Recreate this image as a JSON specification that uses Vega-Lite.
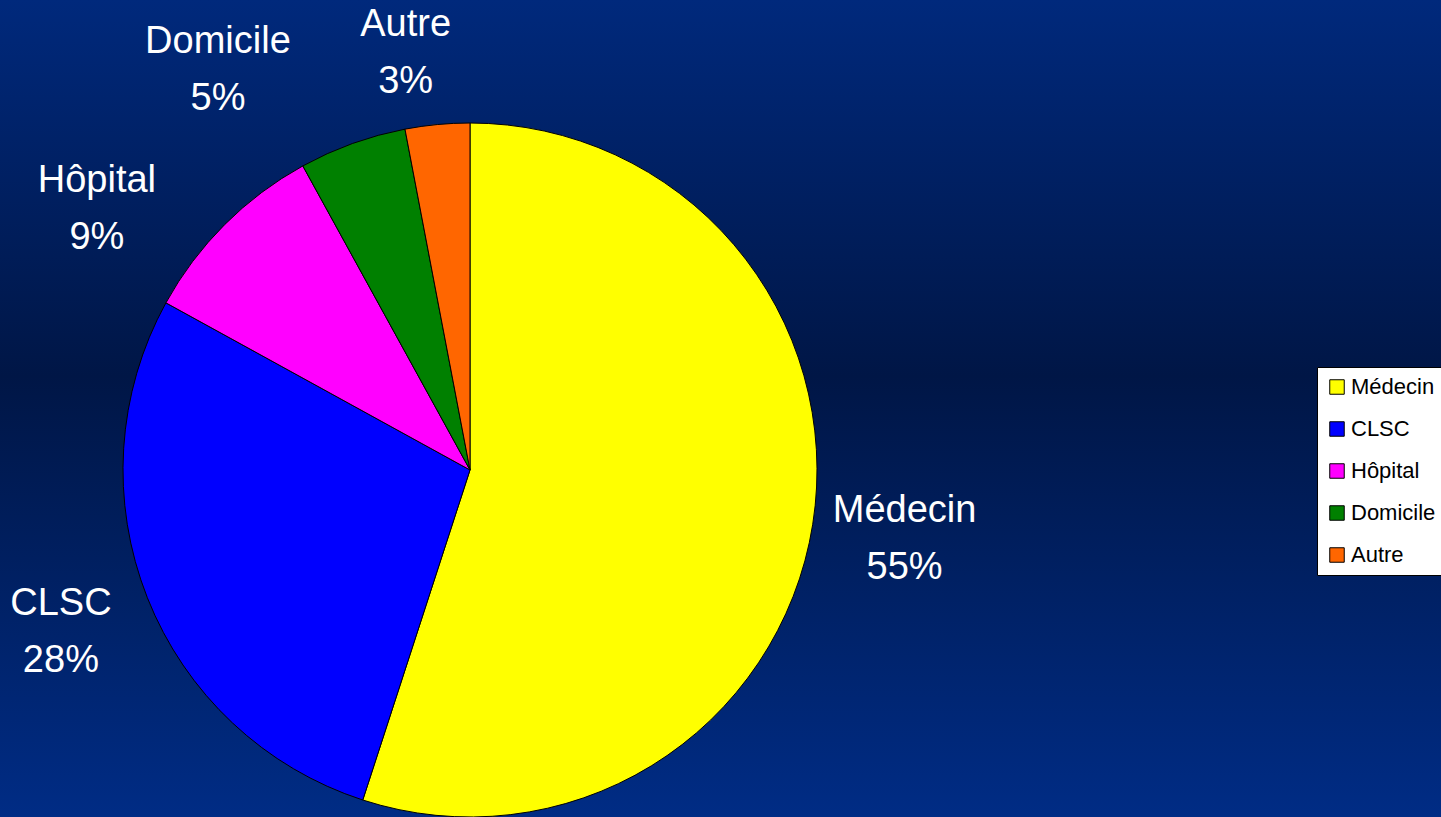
{
  "$schema": "https://vega.github.io/schema/vega-lite/v6.json",
  "width": 1942,
  "height": 940,
  "autosize": {"type": "none"},
  "padding": {"left": -501, "top": 0, "right": 0, "bottom": 0},
  "background": "#001d5c",
  "config": {"view": {"stroke": null}},
  "data": {
    "values": [
      {"lieu": "Médecin", "pct": 55, "label": "Médecin\n55%"},
      {"lieu": "CLSC", "pct": 28, "label": "CLSC\n28%"},
      {"lieu": "Hôpital", "pct": 9, "label": "Hôpital\n9%"},
      {"lieu": "Domicile", "pct": 5, "label": "Domicile\n5%"},
      {"lieu": "Autre", "pct": 3, "label": "Autre\n3%"}
    ]
  },
  "layer": [
    {
      "data": {"values": [{"bg": 1}]},
      "mark": {
        "type": "rect",
        "fill": {
          "gradient": "linear",
          "x1": 0, "y1": 0, "x2": 0, "y2": 1,
          "stops": [
            {"offset": 0, "color": "#00297c"},
            {"offset": 0.4, "color": "#001646"},
            {"offset": 0.87, "color": "#002c85"},
            {"offset": 1, "color": "#002e8a"}
          ]
        }
      },
      "encoding": {}
    },
    {
      "mark": {"type": "arc", "outerRadius": 347, "stroke": "black", "strokeWidth": 1},
      "encoding": {
        "theta": {"field": "pct", "type": "quantitative", "stack": true},
        "order": {"field": "pct", "sort": "descending"},
        "color": {
          "field": "lieu",
          "type": "nominal",
          "scale": {
            "domain": ["Médecin", "CLSC", "Hôpital", "Domicile", "Autre"],
            "range": ["#ffff00", "#0000ff", "#ff00ff", "#008000", "#ff6600"]
          },
          "legend": {
            "orient": "none",
            "legendX": 1818,
            "legendY": 367,
            "title": null,
            "symbolType": "square",
            "symbolSize": 210,
            "symbolStrokeColor": "black",
            "symbolStrokeWidth": 1,
            "symbolOpacity": 1,
            "labelFont": "Liberation Sans",
            "labelFontSize": 22,
            "labelColor": "black",
            "labelOffset": 3,
            "labelLimit": 200,
            "fillColor": "white",
            "strokeColor": "black",
            "padding": 9,
            "rowPadding": 20
          }
        }
      }
    },
    {
      "mark": {
        "type": "text",
        "radius": 440,
        "font": "Liberation Sans",
        "fontSize": 38,
        "color": "white",
        "lineBreak": "\n",
        "lineHeight": 57,
        "align": "center",
        "baseline": "middle",
        "dx": {"expr": "datum.lieu === 'Hôpital' ? -62 : datum.lieu === 'Domicile' ? -103 : datum.lieu === 'Autre' ? -23 : 0"},
        "dy": {"expr": "datum.lieu === 'Hôpital' ? 22 : datum.lieu === 'Domicile' ? -14 : datum.lieu === 'Autre' ? -7 : -28"}
      },
      "encoding": {
        "theta": {"field": "pct", "type": "quantitative", "stack": true},
        "order": {"field": "pct", "sort": "descending"},
        "text": {"field": "label", "type": "nominal"}
      }
    }
  ]
}
